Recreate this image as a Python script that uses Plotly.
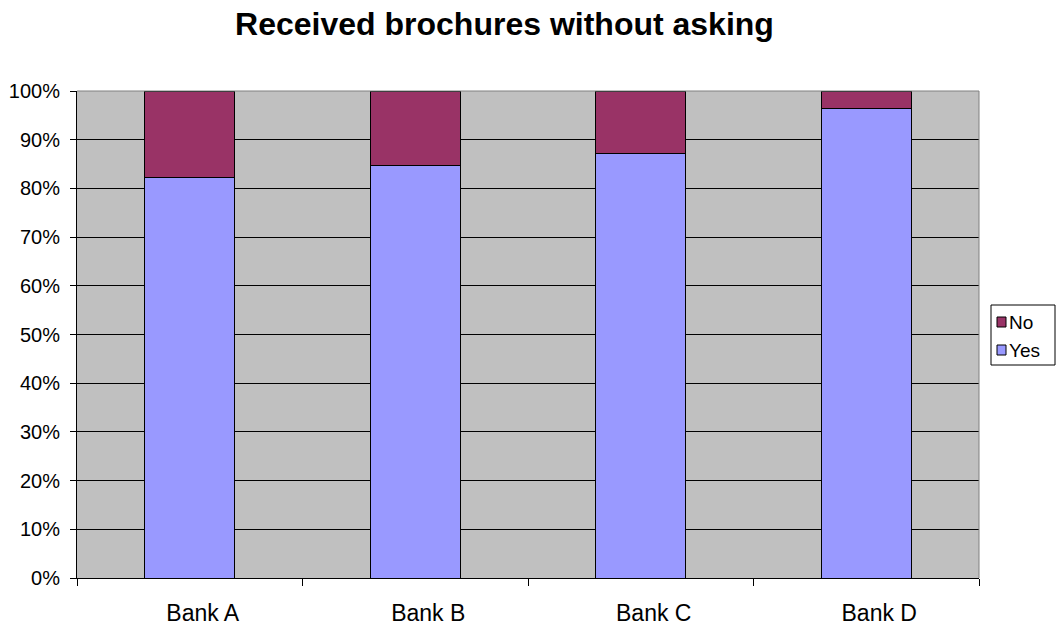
import plotly.graph_objects as go

banks = ["Bank A", "Bank B", "Bank C", "Bank D"]
yes_share = [0.823, 0.848, 0.872, 0.964]
no_share = [round(1 - v, 3) for v in yes_share]
y_ticks = [0.0, 0.1, 0.2, 0.3, 0.4, 0.5, 0.6, 0.7, 0.8, 0.9, 1.0]

series = [
    ("Yes", yes_share, "#9999FF"),
    ("No", no_share, "#993366"),
]

font_family = "Liberation Sans, Arial, sans-serif"
W, H = 1056, 627
ML, MR, MT, MB = 77, 77, 91, 49
plot_w = W - ML - MR
plot_h = H - MT - MB


def px_x(x):
    return (x - ML) / plot_w


def px_y(y):
    return (H - MB - y) / plot_h


fig = go.Figure()
for name, vals, color in series:
    fig.add_trace(go.Bar(
        name=name, x=banks, y=vals,
        marker=dict(color=color, line=dict(color="black", width=1)),
        width=0.4, showlegend=False,
    ))

fig.update_layout(
    barmode="stack",
    width=W, height=H,
    margin=dict(l=ML, r=MR, t=MT, b=MB, autoexpand=False),
    paper_bgcolor="white",
    plot_bgcolor="#C0C0C0",
    font=dict(family=font_family, size=20, color="black"),
    title=dict(
        text="<b>Received brochures without asking</b>",
        x=504.5 / W, xanchor="center", y=1 - 24 / H, yanchor="middle",
        font=dict(family=font_family, size=32, color="black"),
    ),
    showlegend=False,
)

fig.update_xaxes(
    showline=True, linecolor="black", linewidth=1,
    ticks="outside", ticklen=7, tickcolor="black",
    tickson="boundaries", showgrid=False,
    ticklabelstandoff=14, ticklabelshift=13,
    tickfont=dict(size=23),
)
fig.update_yaxes(
    range=[0, 1], tickvals=y_ticks, tickformat=".0%",
    showline=True, linecolor="black", linewidth=1,
    ticks="outside", ticklen=6, tickcolor="black",
    showgrid=True, gridcolor="black", gridwidth=1,
    zeroline=False,
    ticklabelstandoff=6,
    tickfont=dict(size=20),
)

# gray frame on the top and right of the plotting area
fig.add_shape(type="line", xref="paper", yref="paper", x0=0, x1=1, y0=1, y1=1,
              line=dict(color="#808080", width=1))
fig.add_shape(type="line", xref="paper", yref="paper", x0=1, x1=1, y0=0, y1=1,
              line=dict(color="#808080", width=1))

# legend box with square swatches, "No" listed above "Yes"
fig.add_shape(type="rect", xref="paper", yref="paper",
              x0=px_x(991), x1=px_x(1055), y0=px_y(365), y1=px_y(305),
              line=dict(color="black", width=1), fillcolor="white", layer="above")
for i, (name, vals, color) in enumerate(reversed(series)):
    cy = 322 + i * 28
    fig.add_shape(type="rect", xref="paper", yref="paper",
                  x0=px_x(997), x1=px_x(1006), y0=px_y(cy + 5), y1=px_y(cy - 5),
                  line=dict(color="black", width=1), fillcolor=color, layer="above")
    fig.add_annotation(text=name, xref="paper", yref="paper",
                       x=px_x(1008), y=px_y(cy), xanchor="left", yanchor="middle",
                       showarrow=False, font=dict(size=19), borderpad=0)

fig.write_html("out.html")
